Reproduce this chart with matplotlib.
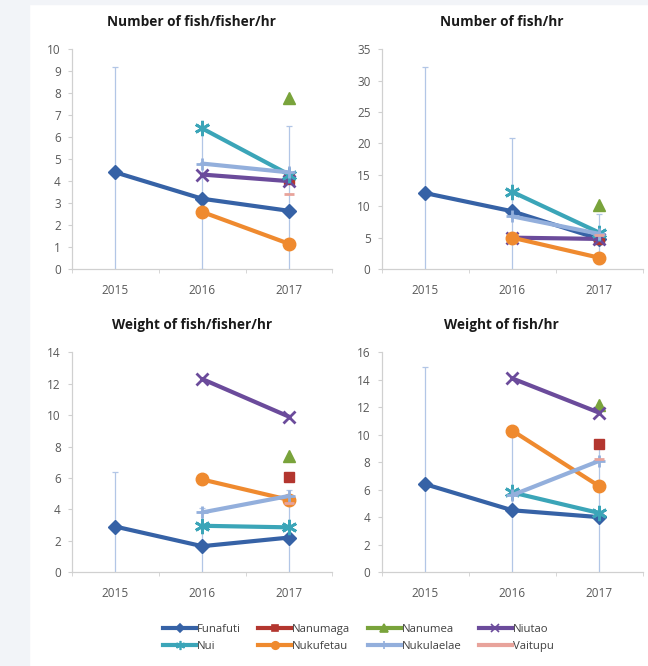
"""
Catch rate panels by island, 2015-2017
"""

import numpy as np
import matplotlib.pyplot as plt
from matplotlib.lines import Line2D
from matplotlib.patches import Rectangle

#---------------------------------------------------------------------------------------------------
# Input data
#---------------------------------------------------------------------------------------------------

years = ['2015', '2016', '2017']
islands = ['Funafuti', 'Nanumaga', 'Nanumea', 'Niutao', 'Nui', 'Nukufetau', 'Nukulaelae', 'Vaitupu']
nan = np.nan

# Number of fish/fisher/hr
num_fisher = {'Funafuti':   [4.4, 3.2, 2.65],
              'Nanumaga':   [nan, nan, 4.1],
              'Nanumea':    [nan, nan, 7.8],
              'Niutao':     [nan, 4.3, 4.0],
              'Nui':        [nan, 6.4, 4.3],
              'Nukufetau':  [nan, 2.6, 1.15],
              'Nukulaelae': [nan, 4.8, 4.4],
              'Vaitupu':    [nan, nan, 3.4]}
num_fisher_err = [4.8, 3.2, 3.85]

# Number of fish/hr
num_hr = {'Funafuti':   [12.1, 9.2, 4.8],
          'Nanumaga':   [nan, nan, 4.8],
          'Nanumea':    [nan, nan, 10.2],
          'Niutao':     [nan, 5.0, 4.8],
          'Nui':        [nan, 12.3, 5.8],
          'Nukufetau':  [nan, 5.0, 1.8],
          'Nukulaelae': [nan, 8.4, 5.6],
          'Vaitupu':    [nan, nan, 5.4]}
num_hr_err = [20.1, 11.6, 4.0]

# Weight of fish/fisher/hr
wt_fisher = {'Funafuti':   [2.9, 1.65, 2.2],
             'Nanumaga':   [nan, nan, 6.05],
             'Nanumea':    [nan, nan, 7.4],
             'Niutao':     [nan, 12.3, 9.9],
             'Nui':        [nan, 2.95, 2.85],
             'Nukufetau':  [nan, 5.9, 4.6],
             'Nukulaelae': [nan, 3.8, 4.85],
             'Vaitupu':    [nan, nan, 4.4]}
wt_fisher_err = [3.45, 2.45, 3.0]

# Weight of fish/hr
wt_hr = {'Funafuti':   [6.4, 4.5, 4.0],
         'Nanumaga':   [nan, nan, 9.3],
         'Nanumea':    [nan, nan, 12.2],
         'Niutao':     [nan, 14.1, 11.6],
         'Nui':        [nan, 5.8, 4.3],
         'Nukufetau':  [nan, 10.3, 6.25],
         'Nukulaelae': [nan, 5.6, 8.1],
         'Vaitupu':    [nan, nan, 8.2]}
wt_hr_err = [8.5, 5.8, 5.0]

titles = ['Number of fish/fisher/hr', 'Number of fish/hr', 'Weight of fish/fisher/hr', 'Weight of fish/hr']
ymax = [10, 35, 14, 16]
ystep = [1, 5, 2, 2]

#---------------------------------------------------------------------------------------------------
# Styles
#---------------------------------------------------------------------------------------------------

colors = {'Funafuti': '#3662a6', 'Nanumaga': '#b3362f', 'Nanumea': '#79a33b', 'Niutao': '#6b4b9b',
          'Nui': '#3ba5b8', 'Nukufetau': '#ef8a2f', 'Nukulaelae': '#93afdc', 'Vaitupu': '#e8a39b'}
asterisk = (6, 2, 0)
markers = {'Funafuti': ('D', 7), 'Nanumaga': ('s', 7.5), 'Nanumea': ('^', 8.5), 'Niutao': ('x', 9),
           'Nui': (asterisk, 11), 'Nukufetau': ('o', 9), 'Nukulaelae': ('+', 9), 'Vaitupu': ('_', 7)}

plt.rcParams['font.family'] = ['Open Sans', 'DejaVu Sans']

#---------------------------------------------------------------------------------------------------
# Main program
#---------------------------------------------------------------------------------------------------

fig = plt.figure(figsize=(6.48, 6.66), dpi=100)
fig.patches.append(Rectangle((0, 0), 29/648, 1, transform=fig.transFigure, color='#f2f4f8', zorder=-5))
fig.patches.append(Rectangle((0, 1 - 4/666), 1, 4/666, transform=fig.transFigure, color='#f2f4f8', zorder=-5))

positions = [[0.111, 0.596, 0.402, 0.330],
             [0.589, 0.596, 0.403, 0.330],
             [0.111, 0.141, 0.402, 0.330],
             [0.589, 0.141, 0.403, 0.330]]
datasets = [(num_fisher, num_fisher_err), (num_hr, num_hr_err), (wt_fisher, wt_fisher_err), (wt_hr, wt_hr_err)]

x = np.arange(len(years))
for k, (data, err) in enumerate(datasets):
    ax = fig.add_axes(positions[k])

    # Funafuti spread
    ax.errorbar(x, data['Funafuti'], yerr=err, fmt='none', ecolor='#b2c6e6', elinewidth=0.9,
                capsize=2.5, capthick=0.9, zorder=1)

    for isl in islands:
        m, ms = markers[isl]
        mew = 2 if m in ('x', '+', '_', asterisk) else 1
        ax.plot(x, data[isl], color=colors[isl], lw=3.0, marker=m, ms=ms, mew=mew,
                mec=colors[isl], solid_capstyle='round', zorder=3)

    ax.set_xlim(-0.5, 2.5)
    ax.set_ylim(0, ymax[k])
    ax.set_yticks(np.arange(0, ymax[k] + 0.1, ystep[k]))
    ax.set_xticks(x)
    ax.set_xticklabels(years)
    ax.set_xticks([-0.5, 0.5, 1.5, 2.5], minor=True)
    ax.tick_params(axis='x', which='major', length=0, labelsize=8.5, labelcolor='#595959', pad=11)
    ax.tick_params(axis='x', which='minor', length=3, color='#d0d0d0', direction='out')
    ax.tick_params(axis='y', length=3, color='#d0d0d0', labelsize=8.5, labelcolor='#595959', pad=5)
    for s in ['top', 'right']:
        ax.spines[s].set_visible(False)
    for s in ['left', 'bottom']:
        ax.spines[s].set_color('#d0d0d0')
        ax.spines[s].set_linewidth(0.9)
    ax.set_title(titles[k], fontsize=9.8, fontweight='bold', color='#1a1a1a', x=0.46, pad=17)

# Legend
order = ['Funafuti', 'Nui', 'Nanumaga', 'Nukufetau', 'Nanumea', 'Nukulaelae', 'Niutao', 'Vaitupu']
handles = []
for isl in order:
    m, ms = markers[isl]
    handles.append(Line2D([], [], color=colors[isl], lw=3.0, marker=m, ms=ms * 0.6, mew=1.2,
                          mec=colors[isl]))
fig.legend(handles, order, loc='center', bbox_to_anchor=(0.553, 0.042), ncols=4, frameon=False,
           fontsize=8.2, labelcolor='#404040', handlelength=2.9, handletextpad=0.1,
           columnspacing=1.5, labelspacing=0.55)

plt.savefig('out.png', dpi=100)
plt.close()
